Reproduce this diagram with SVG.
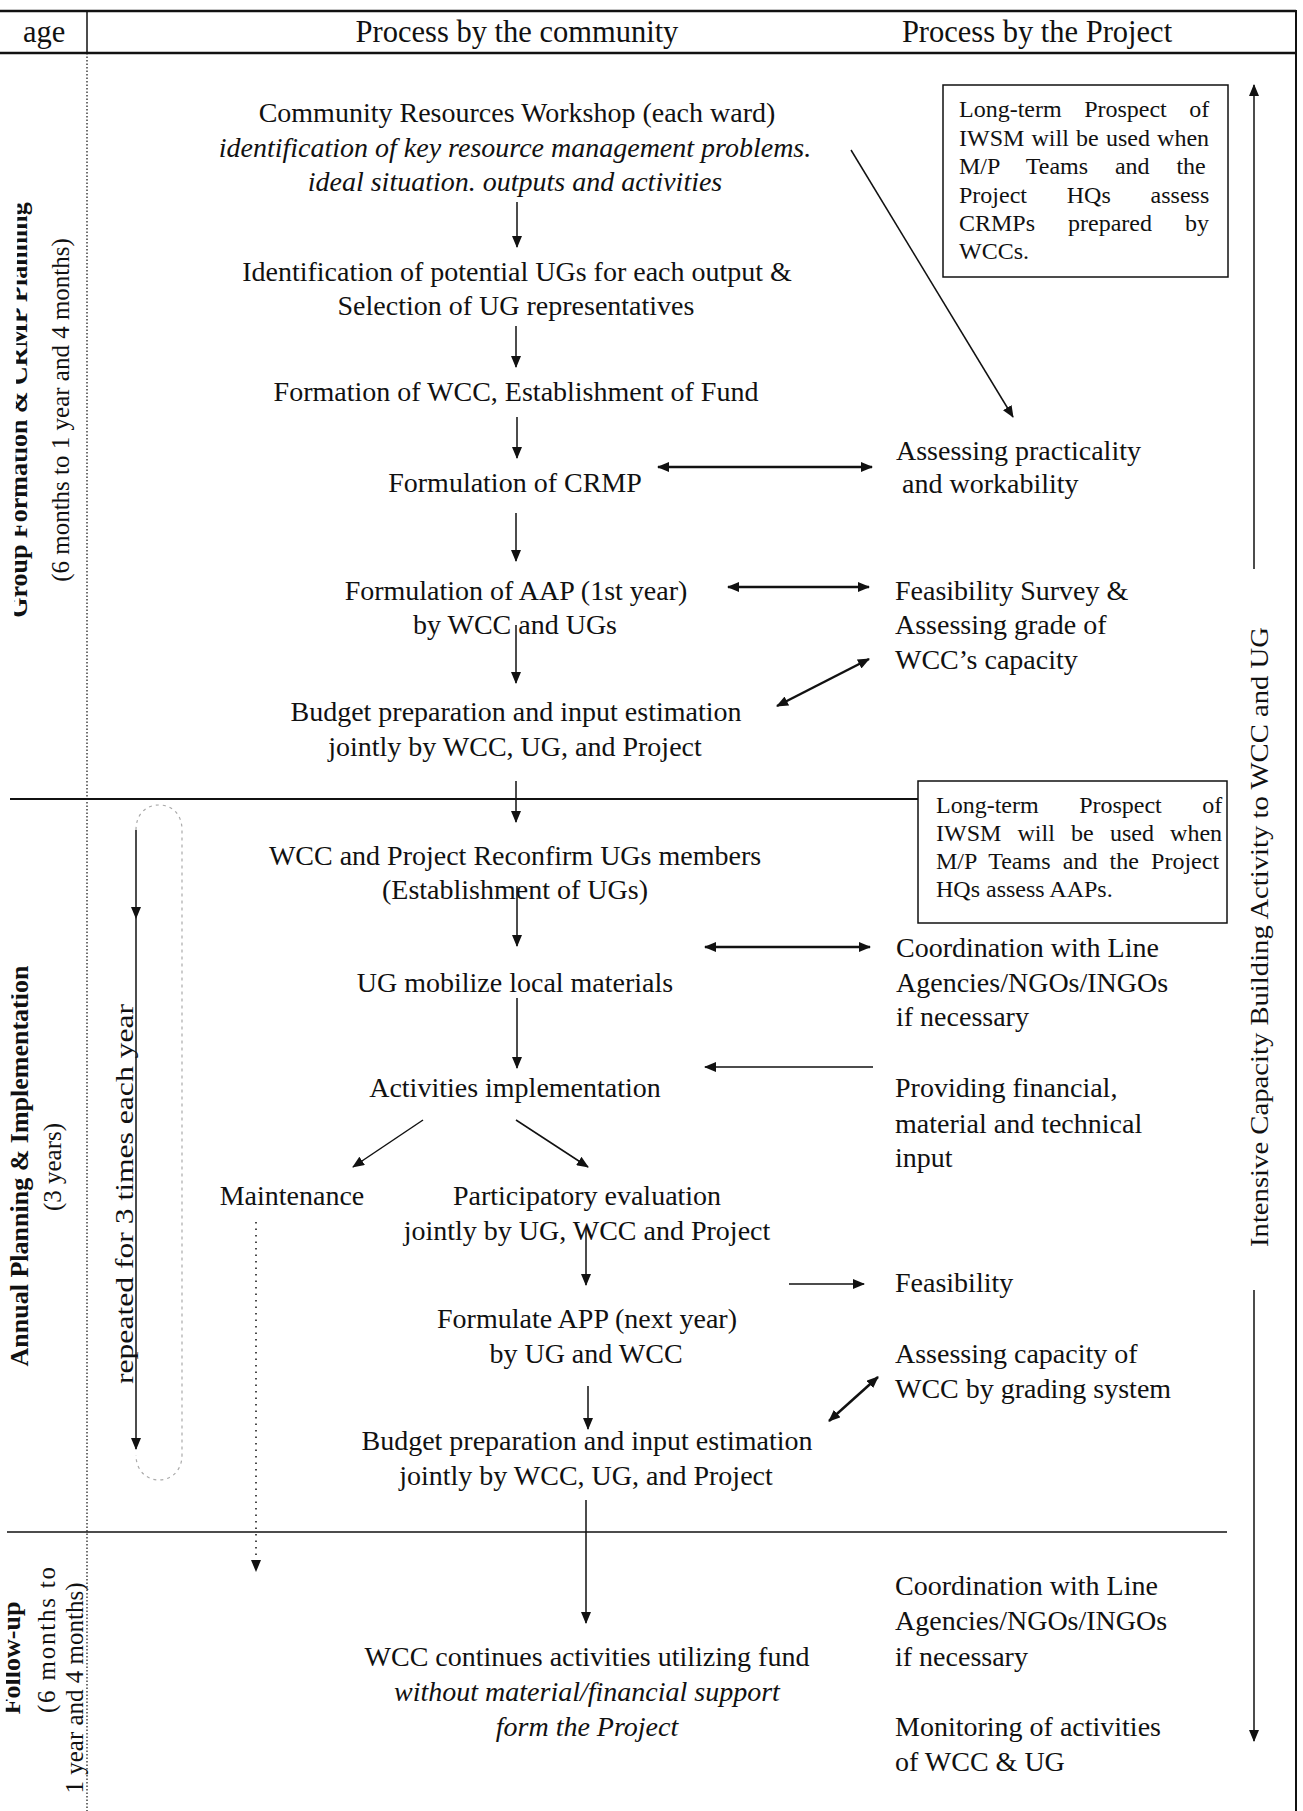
<svg xmlns="http://www.w3.org/2000/svg" width="1303" height="1811" viewBox="0 0 1303 1811">
<defs>
  <marker id="ah" viewBox="0 0 12 10" refX="11" refY="5" markerWidth="12" markerHeight="10" markerUnits="userSpaceOnUse" orient="auto-start-reverse">
    <path d="M0,0 L12,5 L0,10 Z" fill="#111"/>
  </marker>
  <clipPath id="edge"><polygon points="19,0 1303,0 1303,1811 5,1811"/></clipPath>
</defs>
<style>
  text { font-family: "Liberation Serif", "Times New Roman", serif; fill: #111; }
  .hd { font-size: 30.5px; }
  .b { font-size: 28px; text-anchor: middle; }
  .r { font-size: 28px; }
  .it { font-style: italic; }
  .bx { font-size: 24px; }
  .side { font-size: 26px; font-weight: bold; text-anchor: middle; }
  .sub { font-size: 25px; text-anchor: middle; }
  .ln { stroke: #111; fill: none; }
  .c { stroke: #111; stroke-width: 1.5; fill: none; marker-end: url(#ah); }
  .cc { stroke: #111; stroke-width: 2.5; fill: none; marker-start: url(#ah); marker-end: url(#ah); }
  .box { fill: none; stroke: #111; stroke-width: 1.5; }
</style>
<rect width="1303" height="1811" fill="#fff"/>

<!-- table frame -->
<g id="frame" class="ln">
  <line x1="0" y1="11" x2="1296" y2="11" stroke-width="2.5"/>
  <line x1="0" y1="53" x2="1296" y2="53" stroke-width="2.5"/>
  <line x1="1296" y1="10" x2="1296" y2="1811" stroke-width="2"/>
  <line x1="87" y1="11" x2="87" y2="53" stroke-width="1.5"/>
  <line x1="87" y1="53" x2="87" y2="1811" stroke-width="1.2" stroke-dasharray="1.5 2"/>
  <line x1="10" y1="799" x2="918" y2="799" stroke-width="2"/>
  <line x1="7" y1="1532" x2="1227" y2="1532" stroke-width="1.5"/>
</g>

<g id="header">
  <text class="hd" x="23" y="42">age</text>
  <text class="hd" x="517" y="42" text-anchor="middle">Process by the community</text>
  <text class="hd" x="1037" y="42" text-anchor="middle">Process by the Project</text>
</g>

<!-- stage labels along the left edge -->
<g id="stages" clip-path="url(#edge)">
  <text class="side" transform="translate(27,410) rotate(-90)">Group Formation &amp; CRMP Planning</text>
  <text class="sub" transform="translate(69,410) rotate(-90)">(6 months to 1 year and 4 months)</text>
  <text class="side" transform="translate(28,1166) rotate(-90)">Annual Planning &amp; Implementation</text>
  <text class="sub" transform="translate(61,1167) rotate(-90)">(3 years)</text>
  <text class="side" transform="translate(20,1658) rotate(-90)">Follow-up</text>
  <text class="sub" transform="translate(55,1640) rotate(-90)" textLength="146" lengthAdjust="spacing">(6 months to</text>
  <text class="sub" transform="translate(83,1688) rotate(-90)">1 year and 4 months)</text>
</g>

<!-- community column -->
<g id="workshop">
  <text class="b" x="517" y="122">Community Resources Workshop (each ward)</text>
  <text class="b it" x="515" y="157">identification of key resource management problems.</text>
  <text class="b it" x="515" y="191">ideal situation. outputs and activities</text>
</g>
<g id="identify-ugs">
  <text class="b" x="517" y="281">Identification of potential UGs for each output &amp;</text>
  <text class="b" x="516" y="315">Selection of UG representatives</text>
</g>
<g id="form-wcc"><text class="b" x="516" y="401">Formation of WCC, Establishment of Fund</text></g>
<g id="crmp"><text class="b" x="515" y="492">Formulation of CRMP</text></g>
<g id="aap">
  <text class="b" x="516" y="600">Formulation of AAP (1st year)</text>
  <text class="b" x="515" y="634">by WCC and UGs</text>
</g>
<g id="budget1">
  <text class="b" x="516" y="721">Budget preparation and input estimation</text>
  <text class="b" x="515" y="756">jointly by WCC, UG, and Project</text>
</g>
<g id="reconfirm">
  <text class="b" x="515" y="865">WCC and Project Reconfirm UGs members</text>
  <text class="b" x="515" y="899">(Establishment of UGs)</text>
</g>
<g id="mobilize"><text class="b" x="515" y="992">UG mobilize local materials</text></g>
<g id="implement"><text class="b" x="515" y="1097">Activities implementation</text></g>
<g id="maintenance"><text class="b" x="292" y="1205">Maintenance</text></g>
<g id="evaluation">
  <text class="b" x="587" y="1205">Participatory evaluation</text>
  <text class="b" x="587" y="1240">jointly by UG, WCC and Project</text>
</g>
<g id="app">
  <text class="b" x="587" y="1328">Formulate APP (next year)</text>
  <text class="b" x="586" y="1363">by UG and WCC</text>
</g>
<g id="budget2">
  <text class="b" x="587" y="1450">Budget preparation and input estimation</text>
  <text class="b" x="586" y="1485">jointly by WCC, UG, and Project</text>
</g>
<g id="continue">
  <text class="b" x="587" y="1666">WCC continues activities utilizing fund</text>
  <text class="b it" x="587" y="1701">without material/financial support</text>
  <text class="b it" x="587" y="1736">form the Project</text>
</g>

<!-- project column -->
<g id="note1">
  <rect class="box" x="943" y="85" width="285" height="192"/>
  <text class="bx" x="959" y="117" word-spacing="16.5">Long-term Prospect of</text>
  <text class="bx" x="959" y="145.5" word-spacing="1.2">IWSM will be used when</text>
  <text class="bx" x="959" y="174" word-spacing="20.8">M/P Teams and the</text>
  <text class="bx" x="959" y="202.5" word-spacing="33.8">Project HQs assess</text>
  <text class="bx" x="959" y="231" word-spacing="27">CRMPs prepared by</text>
  <text class="bx" x="959" y="259">WCCs.</text>
</g>
<g id="practicality">
  <text class="r" x="896" y="460">Assessing practicality</text>
  <text class="r" x="902" y="493">and workability</text>
</g>
<g id="feasibility-survey">
  <text class="r" x="895" y="600">Feasibility Survey &amp;</text>
  <text class="r" x="895" y="634">Assessing grade of</text>
  <text class="r" x="895" y="669">WCC’s capacity</text>
</g>
<g id="note2">
  <rect class="box" x="918" y="781" width="309" height="142"/>
  <text class="bx" x="936" y="813" word-spacing="34.5">Long-term Prospect of</text>
  <text class="bx" x="936" y="841" word-spacing="10.2">IWSM will be used when</text>
  <text class="bx" x="936" y="869" word-spacing="6.2">M/P Teams and the Project</text>
  <text class="bx" x="936" y="897">HQs assess AAPs.</text>
</g>
<g id="coordination1">
  <text class="r" x="896" y="957">Coordination with Line</text>
  <text class="r" x="896" y="992">Agencies/NGOs/INGOs</text>
  <text class="r" x="896" y="1026">if necessary</text>
</g>
<g id="providing">
  <text class="r" x="895" y="1097">Providing financial,</text>
  <text class="r" x="895" y="1133">material and technical</text>
  <text class="r" x="895" y="1167">input</text>
</g>
<g id="feasibility"><text class="r" x="895" y="1292">Feasibility</text></g>
<g id="grading">
  <text class="r" x="895" y="1363">Assessing capacity of</text>
  <text class="r" x="895" y="1398">WCC by grading system</text>
</g>
<g id="coordination2">
  <text class="r" x="895" y="1595">Coordination with Line</text>
  <text class="r" x="895" y="1630">Agencies/NGOs/INGOs</text>
  <text class="r" x="895" y="1666">if necessary</text>
</g>
<g id="monitoring">
  <text class="r" x="895" y="1736">Monitoring of activities</text>
  <text class="r" x="895" y="1771">of WCC &amp; UG</text>
</g>

<!-- yearly repetition loop -->
<g id="loop">
  <path d="M136,830 C136,813 147,805 159,805 C171,805 182,813 182,830 L182,1455 C182,1471 171,1480 159,1480 C147,1480 136,1471 136,1455" stroke="#aaa" stroke-width="1.2" stroke-dasharray="3 4" fill="none"/>
  <text transform="translate(133,1194) rotate(-90)" text-anchor="middle" font-family="Liberation Sans, Arial, sans-serif" font-size="25" textLength="380" lengthAdjust="spacingAndGlyphs">repeated for 3 times each year</text>
</g>

<!-- capacity building span -->
<g id="capacity">
  <text transform="translate(1268,937) rotate(-90)" text-anchor="middle" font-size="26" textLength="620" lengthAdjust="spacingAndGlyphs">Intensive Capacity Building Activity to WCC and UG</text>
</g>

<g id="connectors">
  <line class="c" x1="517" y1="202" x2="517" y2="247"/>
  <line class="c" x1="516" y1="326" x2="516" y2="367"/>
  <line class="c" x1="517" y1="417" x2="517" y2="458"/>
  <line class="c" x1="516" y1="513" x2="516" y2="561"/>
  <line class="c" x1="516" y1="625" x2="516" y2="683"/>
  <line class="c" x1="516" y1="781" x2="516" y2="822"/>
  <line class="c" x1="517" y1="886" x2="517" y2="946"/>
  <line class="c" x1="517" y1="998" x2="517" y2="1068"/>
  <line class="c" x1="586" y1="1228" x2="586" y2="1285"/>
  <line class="c" x1="588" y1="1386" x2="588" y2="1429"/>
  <line class="c" x1="586" y1="1500" x2="586" y2="1623"/>
  <line class="c" x1="851" y1="150" x2="1013" y2="417" stroke-width="1.3"/>
  <line class="cc" x1="658" y1="467" x2="872" y2="467"/>
  <line class="cc" x1="728" y1="587" x2="869" y2="587"/>
  <line class="cc" x1="777" y1="706" x2="869" y2="659"/>
  <line class="cc" x1="705" y1="947" x2="870" y2="947"/>
  <line class="c" x1="873" y1="1067" x2="705" y2="1067" stroke-width="2.5"/>
  <line class="c" x1="423" y1="1120" x2="353" y2="1167" stroke-width="2.2"/>
  <line class="c" x1="516" y1="1120" x2="588" y2="1167" stroke-width="2.2"/>
  <line class="c" x1="789" y1="1284" x2="864" y2="1284" stroke-width="2.5"/>
  <line class="cc" x1="829" y1="1421" x2="878" y2="1377"/>
  <line class="c" x1="136" y1="830" x2="136" y2="918"/>
  <line class="c" x1="136" y1="918" x2="136" y2="1449"/>
  <line class="c" x1="256" y1="1222" x2="256" y2="1571" stroke="#ccc" stroke-width="1" stroke-dasharray="1.5 5"/>
  <line class="c" x1="1254" y1="569" x2="1254" y2="85"/>
  <line class="c" x1="1254" y1="1290" x2="1254" y2="1741"/>
</g>
</svg>
